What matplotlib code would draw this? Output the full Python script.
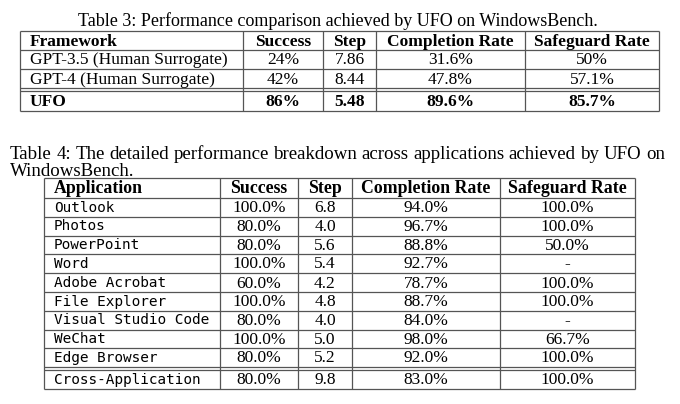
import matplotlib
matplotlib.use("Agg")
import matplotlib.pyplot as plt

# Table 3 data
t3_title = "Table 3: Performance comparison achieved by UFO on WindowsBench."
t3_header = ["Framework", "Success", "Step", "Completion Rate", "Safeguard Rate"]
t3_frameworks = ["GPT-3.5 (Human Surrogate)", "GPT-4 (Human Surrogate)", "UFO"]
t3_success = ["24%", "42%", "86%"]
t3_step = ["7.86", "8.44", "5.48"]
t3_completion = ["31.6%", "47.8%", "89.6%"]
t3_safeguard = ["50%", "57.1%", "85.7%"]

# Table 4 data
t4_title = ["Table 4: The detailed performance breakdown across applications achieved by UFO on",
            "WindowsBench."]
t4_header = ["Application", "Success", "Step", "Completion Rate", "Safeguard Rate"]
t4_apps = ["Outlook", "Photos", "PowerPoint", "Word", "Adobe Acrobat", "File Explorer",
           "Visual Studio Code", "WeChat", "Edge Browser", "Cross-Application"]
t4_success = ["100.0%", "80.0%", "80.0%", "100.0%", "60.0%", "100.0%", "80.0%", "100.0%", "80.0%", "80.0%"]
t4_step = ["6.8", "4.0", "5.6", "5.4", "4.2", "4.8", "4.0", "5.0", "5.2", "9.8"]
t4_completion = ["94.0%", "96.7%", "88.8%", "92.7%", "78.7%", "88.7%", "84.0%", "98.0%", "92.0%", "83.0%"]
t4_safeguard = ["100.0%", "100.0%", "50.0%", "-", "100.0%", "100.0%", "-", "66.7%", "100.0%", "100.0%"]

SERIF = "Liberation Serif"
MONO = "DejaVu Sans Mono"
LINE = "#555555"
LW = 0.9

fig = plt.figure(figsize=(6.8, 4.04), dpi=100)
ax = fig.add_axes([0, 0, 1, 1])
ax.set_xlim(0, 680)
ax.set_ylim(404, 0)
ax.axis("off")


def draw_table(cols, rows_y, double_at, x_left, x_right):
    # horizontal rules
    for y in rows_y:
        ax.hlines(y, x_left, x_right, color=LINE, lw=LW)
    ax.hlines(double_at, x_left, x_right, color=LINE, lw=LW)
    # vertical rules
    for x in cols:
        ax.vlines(x, rows_y[0], rows_y[-1], color=LINE, lw=LW)


def justified(line, x0, x1, y, size):
    # spread words so the line fills x0..x1, like a LaTeX justified caption
    words = line.split()
    r = fig.canvas.get_renderer()
    arts, widths = [], []
    for w in words:
        t = ax.text(0, y, w, family=SERIF, fontsize=size, ha="left", va="baseline")
        bb = t.get_window_extent(renderer=r)
        arts.append(t)
        widths.append(bb.width)
    gap = (x1 - x0 - sum(widths)) / (len(words) - 1)
    x = x0
    for t, wd in zip(arts, widths):
        t.set_x(x)
        x += wd + gap


# ---- Table 3 ----
ax.text(338, 26, t3_title, family=SERIF, fontsize=13, ha="center", va="baseline")
t3_cols = [20, 243, 323, 376, 525, 659]
t3_rows = [31, 50, 69, 88, 111]
draw_table(t3_cols, t3_rows, 91, t3_cols[0], t3_cols[-1])
t3_bots = [50, 69, 88, 111]
centers = [(t3_cols[i] + t3_cols[i + 1]) / 2 for i in range(len(t3_cols) - 1)]
for j, h in enumerate(t3_header):
    x = 30 if j == 0 else centers[j]
    ax.text(x, t3_bots[0] - 4.5, h, family=SERIF, fontsize=12.5, weight="bold",
            ha="left" if j == 0 else "center", va="baseline")
for i in range(len(t3_frameworks)):
    wt = "bold" if t3_frameworks[i] == "UFO" else "normal"
    vals = [t3_frameworks[i], t3_success[i], t3_step[i], t3_completion[i], t3_safeguard[i]]
    for j, v in enumerate(vals):
        x = 30 if j == 0 else centers[j]
        ax.text(x, t3_bots[i + 1] - 4.5, v, family=SERIF, fontsize=12.5, weight=wt,
                ha="left" if j == 0 else "center", va="baseline")

# ---- Table 4 ----
justified(t4_title[0], 10, 665, 159, 13.6)
ax.text(10, 176, t4_title[1], family=SERIF, fontsize=13.6, ha="left", va="baseline")
t4_cols = [44, 220, 298, 352, 500, 635]
t4_rows = [178, 197.5, 216.5, 235.5, 254.3, 273, 292, 311, 329.5, 348, 367, 389]
draw_table(t4_cols, t4_rows, 370, t4_cols[0], t4_cols[-1])
t4_bots = t4_rows[1:]
c4 = [(t4_cols[i] + t4_cols[i + 1]) / 2 for i in range(len(t4_cols) - 1)]
for j, h in enumerate(t4_header):
    x = 54 if j == 0 else c4[j]
    ax.text(x, t4_bots[0] - 4.5, h, family=SERIF, fontsize=12.8, weight="bold",
            ha="left" if j == 0 else "center", va="baseline")
for i in range(len(t4_apps)):
    b = t4_bots[i + 1] - 4.5
    ax.text(54, b - 0.5, t4_apps[i], family=MONO, fontsize=10.4, ha="left", va="baseline")
    vals = [t4_success[i], t4_step[i], t4_completion[i], t4_safeguard[i]]
    for j, v in enumerate(vals):
        ax.text(c4[j + 1], b, v, family=SERIF, fontsize=12.5, ha="center", va="baseline")

fig.savefig("out.png", dpi=100, facecolor="white")
